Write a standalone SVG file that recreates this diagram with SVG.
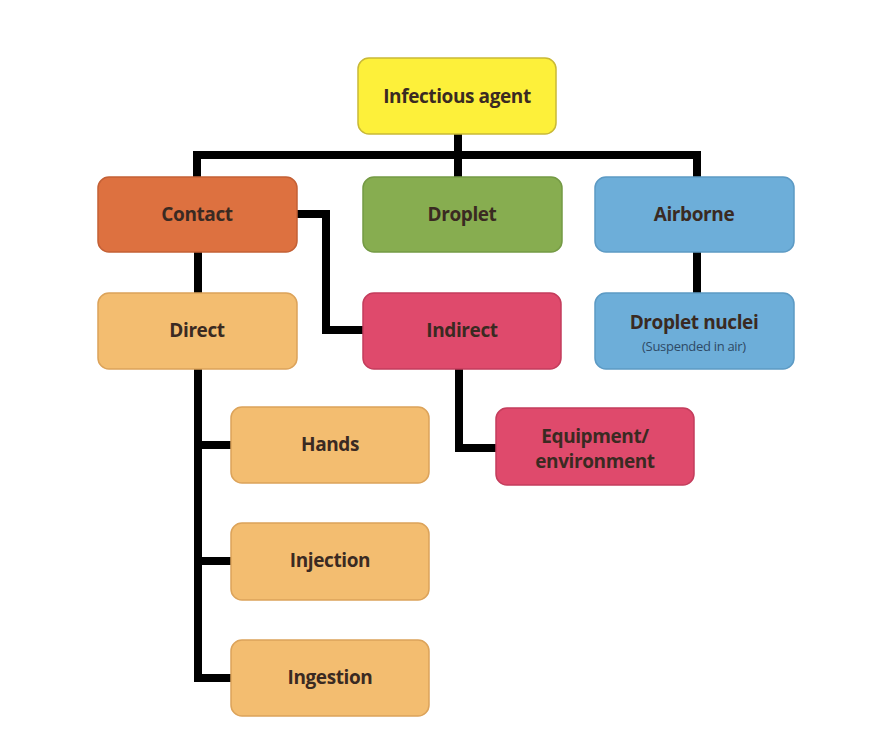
<svg xmlns="http://www.w3.org/2000/svg" width="872" height="756" viewBox="0 0 872 756">
<style>
.n{stroke-width:1.5}
.t{font-family:"Open Sans","Liberation Sans",sans-serif;font-weight:bold;font-size:19px;fill:#3a2a22;text-anchor:middle;letter-spacing:-0.4px}
.s{font-family:"Open Sans","Liberation Sans",sans-serif;font-size:13px;fill:#2e4a66;text-anchor:middle;letter-spacing:-0.3px}
.c{fill:none;stroke:#000;stroke-width:8;stroke-linejoin:miter}
</style>
<rect width="872" height="756" fill="#fff"/>
<g id="connectors">
<path class="c" d="M458 134V155M197 155H697M197 151V177M458 151V177M697 151V177"/>
<path class="c" d="M198 252V293"/>
<path class="c" d="M697 252V293"/>
<path class="c" d="M297 214H326V330H363"/>
<path class="c" d="M198 369V678M194 445H231M194 561H231M194 678H231"/>
<path class="c" d="M459 369V448H496"/>
</g>
<g id="infectious-agent"><rect class="n" x="358" y="58" width="198" height="76" rx="11" fill="#fdf03a" stroke="#c9b936"/><text class="t" x="457" y="103">Infectious agent</text></g>
<g id="contact"><rect class="n" x="98" y="177" width="199" height="75" rx="11" fill="#dd7140" stroke="#c46035"/><text class="t" x="197" y="221">Contact</text></g>
<g id="droplet"><rect class="n" x="363" y="177" width="199" height="75" rx="11" fill="#87ad50" stroke="#749a44"/><text class="t" x="462" y="221">Droplet</text></g>
<g id="airborne"><rect class="n" x="595" y="177" width="199" height="75" rx="11" fill="#6daed9" stroke="#5c9ac4"/><text class="t" x="694" y="221">Airborne</text></g>
<g id="direct"><rect class="n" x="98" y="293" width="199" height="76" rx="11" fill="#f3bd70" stroke="#dca35a"/><text class="t" x="197" y="337">Direct</text></g>
<g id="indirect"><rect class="n" x="363" y="293" width="198" height="76" rx="11" fill="#df4a6c" stroke="#c43d5c"/><text class="t" x="462" y="337">Indirect</text></g>
<g id="droplet-nuclei"><rect class="n" x="595" y="293" width="199" height="76" rx="11" fill="#6daed9" stroke="#5c9ac4"/><text class="t" x="694" y="329">Droplet nuclei</text><text class="s" x="694" y="351">(Suspended in air)</text></g>
<g id="equipment"><rect class="n" x="496" y="408" width="198" height="77" rx="11" fill="#df4a6c" stroke="#c43d5c"/><text class="t" x="595" y="443">Equipment/</text><text class="t" x="595" y="468">environment</text></g>
<g id="hands"><rect class="n" x="231" y="407" width="198" height="76" rx="11" fill="#f3bd70" stroke="#dca35a"/><text class="t" x="330" y="451">Hands</text></g>
<g id="injection"><rect class="n" x="231" y="523" width="198" height="77" rx="11" fill="#f3bd70" stroke="#dca35a"/><text class="t" x="330" y="567">Injection</text></g>
<g id="ingestion"><rect class="n" x="231" y="640" width="198" height="76" rx="11" fill="#f3bd70" stroke="#dca35a"/><text class="t" x="330" y="684">Ingestion</text></g>
</svg>
